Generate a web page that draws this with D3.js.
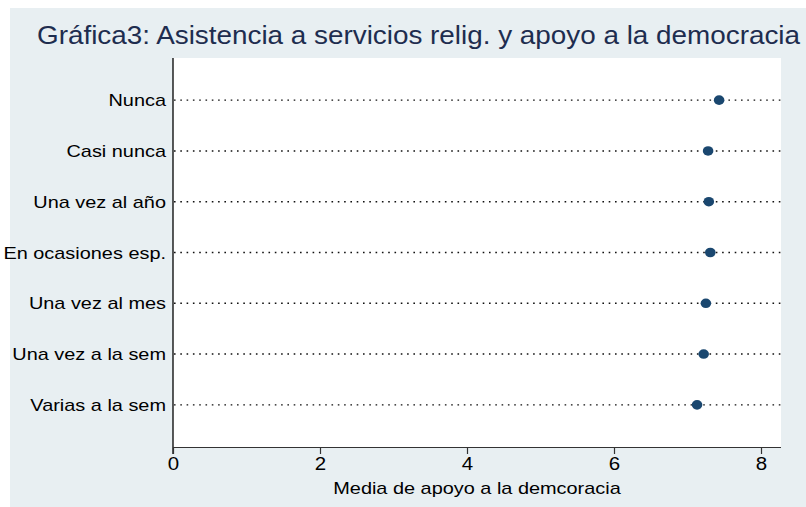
<!DOCTYPE html>
<html><head><meta charset="utf-8">
<script src="https://cdn.jsdelivr.net/npm/d3@7"></script>
<style>body{margin:0;background:#fff}svg{display:block;font-family:"Liberation Sans",Arial,sans-serif}</style>
</head><body><svg id="c" width="806" height="507"></svg>
<script>
const categories = ["Nunca","Casi nunca","Una vez al año","En ocasiones esp.","Una vez al mes","Una vez a la sem","Varias a la sem"];
const values = [7.43, 7.28, 7.29, 7.31, 7.25, 7.22, 7.13];
const xTicks = [0, 2, 4, 6, 8];
const title = "Gráfica3: Asistencia a servicios relig. y apoyo a la democracia";
const xTitle = "Media de apoyo a la demcoracia";

const svg = d3.select("#c");
svg.append("rect").attr("x",10).attr("y",8).attr("width",796).attr("height",499).attr("fill","#e8eff2");
const L=173, R=781, T=58, B=447;
svg.append("rect").attr("x",L).attr("y",T).attr("width",R-L).attr("height",B-T).attr("fill","#fff");

const x = d3.scaleLinear().domain([0, 8.272]).range([L, R]);
const y = d3.scalePoint().domain(categories).range([T, B]).padding(0.83);
const STRETCH = 1.17;
function widen(sel){ sel.each(function(){ const w=this.getComputedTextLength(); d3.select(this).attr("textLength", w*STRETCH).attr("lengthAdjust","spacingAndGlyphs"); }); }

svg.append("g").selectAll("line").data(categories).join("line")
  .attr("x1", L+1).attr("x2", R+4).attr("y1", d=>y(d)).attr("y2", d=>y(d))
  .attr("stroke","#111").attr("stroke-width",1.4).attr("stroke-dasharray","1.6,4.7");

svg.append("g").selectAll("ellipse").data(values).join("ellipse")
  .attr("cx", d=>x(d)).attr("cy",(d,i)=>y(categories[i])).attr("rx",5.3).attr("ry",4.8)
  .attr("fill","#1a476f");

svg.append("g").selectAll("text").data(categories).join("text")
  .attr("x",166).attr("y",d=>y(d)).attr("dy","0.36em").attr("text-anchor","end")
  .attr("font-size",17).attr("fill","#000").text(d=>d).call(widen);

svg.append("line").attr("x1",L).attr("x2",L).attr("y1",T).attr("y2",B+7).attr("stroke","#000").attr("stroke-width",1.3);

const xa = svg.append("g").attr("transform",`translate(0,${B})`)
  .call(d3.axisBottom(x).tickValues(xTicks).tickSize(7).tickPadding(4).tickFormat(d3.format("d")));
xa.select(".domain").attr("d",`M${L},0.5H${R}`).attr("stroke","#333").attr("stroke-width",1.2);
xa.selectAll(".tick line").attr("stroke","#333").attr("stroke-width",1.2);
xa.selectAll(".tick text").attr("font-size",17.5).attr("fill","#000").attr("font-family","Liberation Sans, Arial, sans-serif").call(widen);

svg.append("text").attr("x",(L+R)/2).attr("y",494).attr("text-anchor","middle")
  .attr("font-size",17).attr("fill","#000").text(xTitle).call(widen);

svg.append("text").attr("x",37).attr("y",44).attr("font-size",26).attr("fill","#1e2d4f")
  .attr("textLength",763).attr("lengthAdjust","spacingAndGlyphs").text(title);
</script></body></html>
